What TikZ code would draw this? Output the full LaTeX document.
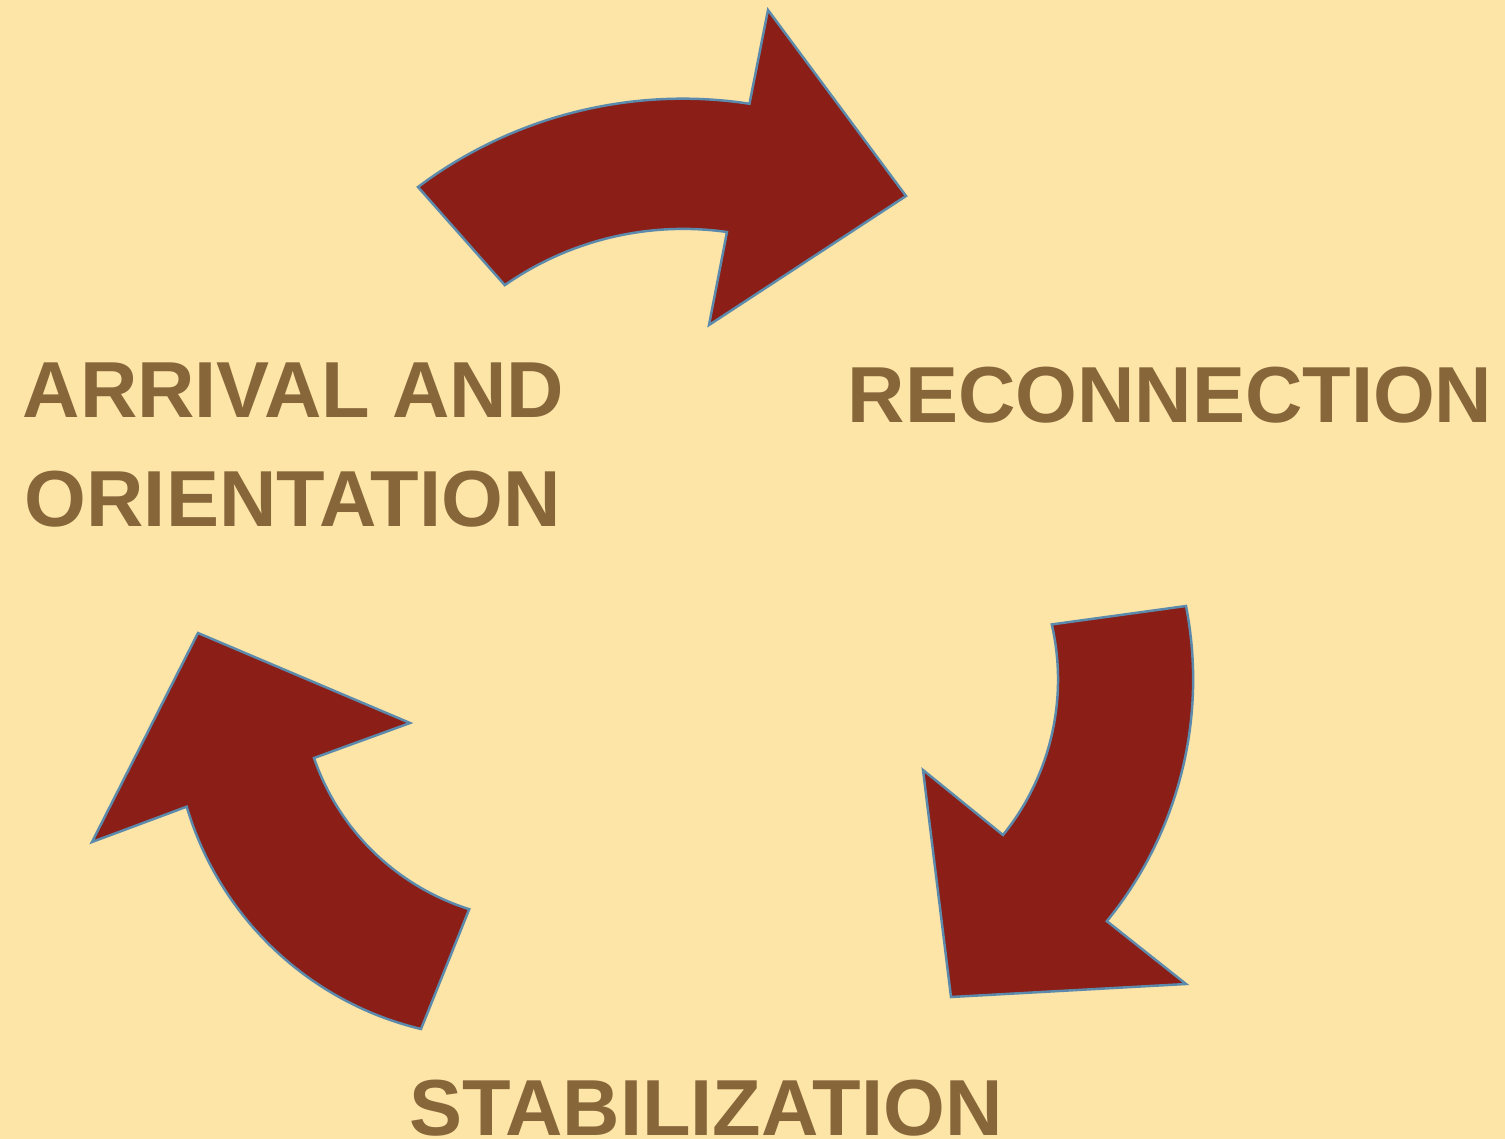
\documentclass[tikz,border=0pt]{standalone}
\usepackage{fontspec}
\setmainfont{Liberation Sans}
\usepackage{tikz}
\usepackage{xcolor}

\begin{document}
\begin{tikzpicture}[x=0.01cm,y=-0.01cm,
  bigarrow/.style={fill=arrowred,draw=arrowedge,line width=0.7pt,line join=miter},
  stagelabel/.style={anchor=base west,inner sep=0pt,text=labelbrown,font=\fontsize{22.6pt}{26pt}\selectfont\bfseries}]
\definecolor{paper}{HTML}{FDE4A7}
\definecolor{arrowred}{HTML}{8B1E16}
\definecolor{arrowedge}{HTML}{5B8AAD}
\definecolor{labelbrown}{HTML}{87663A}
\fill[paper] (0,0) rectangle (1505,1139);
\useasboundingbox (0,0) rectangle (1505,1139);
% stage labels
\node[stagelabel] (arrival) at (22,417) {ARRIVAL AND};
\node[stagelabel] (orient) at (24,526) {ORIENTATION};
\node[stagelabel] (reconn) at (847,422) {RECONNECTION};
\node[stagelabel] (stab) at (409,1135) {STABILIZATION};
% the three curved arrows
\draw[bigarrow] (418,187) arc[start angle=-126.9,end angle=-81.3,radius=441]
  -- (768,10) -- (906,196) -- (709,325) -- (727,232)
  arc[start angle=-81.9,end angle=-125,radius=311] -- cycle;
\draw[bigarrow] (1186,606) arc[start angle=-11.1,end angle=39.3,radius=381.6]
  -- (1186,984) -- (951,997) -- (923,770) -- (1003,835)
  arc[start angle=39,end angle=-12.9,radius=247] -- cycle;
\draw[bigarrow] (421,1029) arc[start angle=103.5,end angle=163.5,radius=323]
  -- (92,842) -- (198,633) -- (410,723) -- (314,758)
  arc[start angle=161,end angle=107.5,radius=240.7] -- cycle;
\end{tikzpicture}
\end{document}
